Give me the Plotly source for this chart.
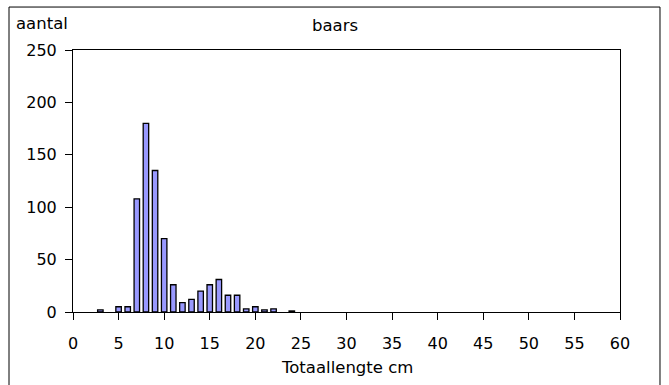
import plotly.graph_objects as go

# Lengteverdeling baars: aantal vissen per cm-klasse (totaallengte)
lengte_cm = [3, 5, 6, 7, 8, 9, 10, 11, 12, 13, 14, 15, 16, 17, 18, 19, 20, 21, 22, 24]
aantal = [2, 5, 5, 108, 180, 135, 70, 26, 9, 12, 20, 26, 31, 16, 16, 3, 5, 2, 3, 1]

x_ticks = list(range(0, 61, 5))
y_ticks = list(range(0, 251, 50))

FONT = "DejaVu Sans"

fig = go.Figure(
    go.Bar(
        x=lengte_cm,
        y=aantal,
        width=0.6,
        marker=dict(color="#9999FF", line=dict(color="#000000", width=1.3)),
    )
)

fig.update_layout(
    width=669,
    height=385,
    margin=dict(l=73, r=49, t=50, b=73),
    paper_bgcolor="white",
    plot_bgcolor="white",
    showlegend=False,
    font=dict(family=FONT, size=16, color="#000000"),
    xaxis=dict(
        range=[0, 60],
        tickvals=x_ticks,
        ticks="outside",
        ticklen=7,
        tickcolor="#000000",
        showline=True,
        linecolor="#000000",
        linewidth=1,
        mirror=True,
        showgrid=False,
        zeroline=False,
        tickfont=dict(family=FONT, size=16),
        ticklabelstandoff=10,
    ),
    yaxis=dict(
        range=[0, 250],
        tickvals=y_ticks,
        ticks="outside",
        ticklen=7,
        tickcolor="#000000",
        showline=True,
        linecolor="#000000",
        linewidth=1,
        mirror=True,
        showgrid=False,
        zeroline=False,
        tickfont=dict(family=FONT, size=16),
        ticklabelstandoff=5,
    ),
    annotations=[
        dict(text="aantal", xref="paper", yref="paper", x=-0.108, y=1.103,
             xanchor="left", yanchor="middle", showarrow=False,
             font=dict(family=FONT, size=16.5)),
        dict(text="baars", xref="paper", yref="paper", x=0.479, y=1.095,
             xanchor="center", yanchor="middle", showarrow=False,
             font=dict(family=FONT, size=16.5)),
        dict(text="Totaallengte cm", xref="paper", yref="paper", x=0.5, y=-0.212,
             xanchor="center", yanchor="middle", showarrow=False,
             font=dict(family=FONT, size=16.5)),
    ],
    shapes=[
        # kader om het hele diagram
        dict(type="rect", xref="paper", yref="paper",
             x0=-0.117, x1=1.0731, y0=-0.35, y1=1.164,
             line=dict(color="#000000", width=1), fillcolor="rgba(0,0,0,0)",
             layer="below"),
    ],
)

fig.write_html("out.html")
